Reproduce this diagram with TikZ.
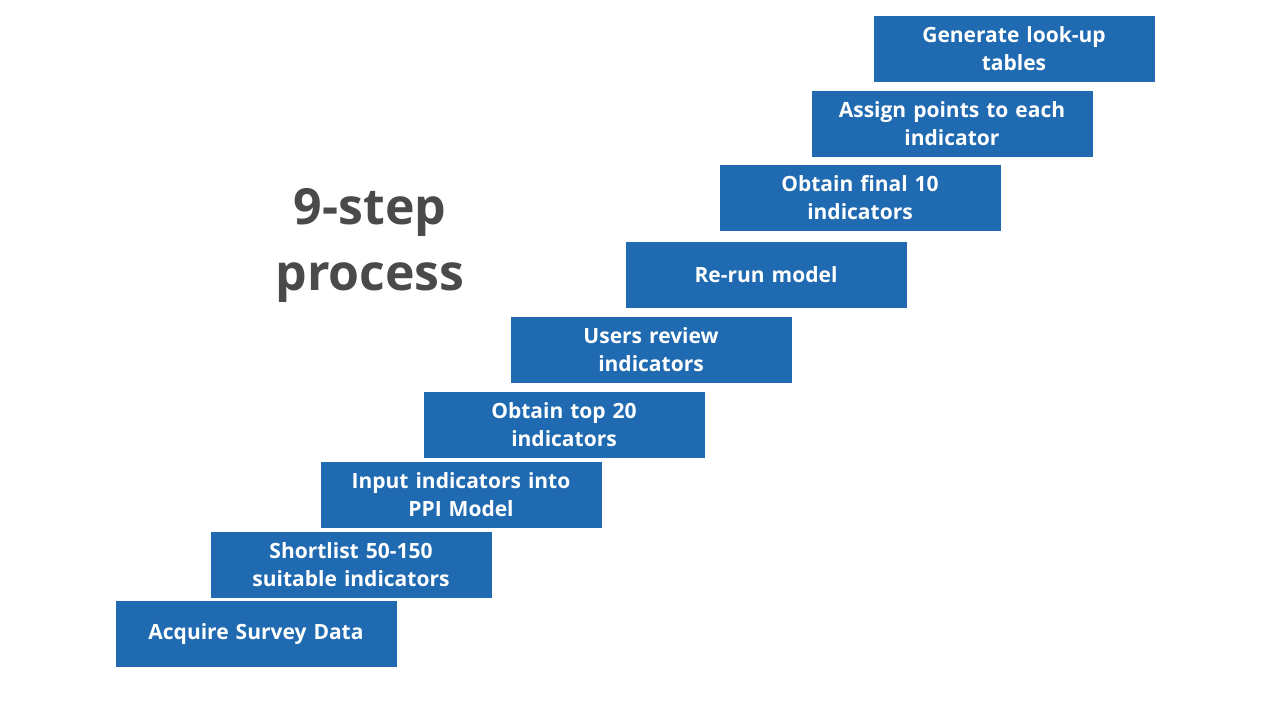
\documentclass[tikz,border=0pt]{standalone}
\usepackage{fontspec}
\setmainfont{Open Sans}
\definecolor{stepblue}{HTML}{1F6AB0}
\definecolor{titlegray}{HTML}{4A4A4A}
\begin{document}
\begin{tikzpicture}[x=1pt,y=1pt,yscale=-1]
\tikzset{stair/.style={fill=stepblue, text=white, minimum width=281pt, minimum height=66pt,
  inner sep=0pt, align=center, text width=260pt, font=\fontsize{21}{28}\selectfont\bfseries}}
\useasboundingbox (0,0) rectangle (1280,720);

% Steps
\node [stair] (s1) at (256,634) {Acquire Survey Data};
\node [stair] (s2) at (351,565) {Shortlist 50-150\\suitable indicators};
\node [stair] (s3) at (461,495) {Input indicators into\\PPI Model};
\node [stair] (s4) at (564,425) {Obtain top 20\\indicators};
\node [stair] (s5) at (651,350) {Users review\\indicators};
\node [stair] (s6) at (766,275) {Re-run model};
\node [stair] (s7) at (860,198) {Obtain final 10\\indicators};
\node [stair] (s8) at (952,124) {Assign points to each\\indicator};
\node [stair] (s9) at (1014,49) {Generate look-up\\tables};

% Title
\node [text=titlegray, align=center, font=\fontsize{50}{66}\selectfont\bfseries] (title) at (370,245) {9-step\\process};
\end{tikzpicture}
\end{document}
